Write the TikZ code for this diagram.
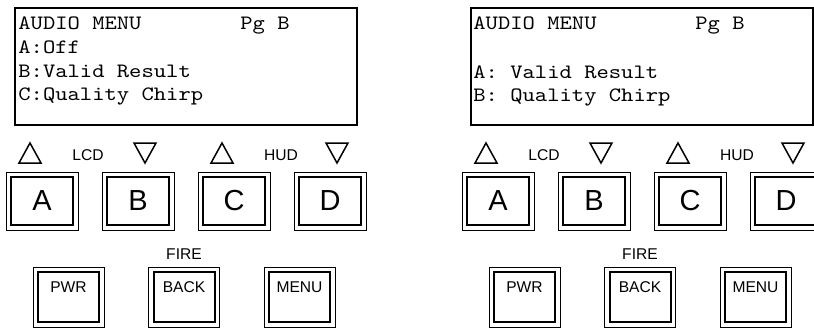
\documentclass[tikz,border=0pt]{standalone}
\usepackage{fontspec}
\setmainfont{Liberation Sans}
\newfontfamily\lcdfont[FakeStretch=1.15]{Latin Modern Mono}
\begin{document}
\begin{tikzpicture}[x=0.5pt,y=-0.5pt,
	lcdtext/.style={anchor=base west,inner sep=0pt,font=\lcdfont\fontsize{10.2}{12}\selectfont},
	small/.style={anchor=base,inner sep=0pt,font=\fontsize{7.8}{9}\selectfont},
	keyout/.style={draw,line width=0.5pt,minimum width=36pt,minimum height=29pt,inner sep=0pt},
	keyin/.style={draw,line width=1pt,minimum width=31pt,minimum height=24pt,inner sep=0pt,font=\fontsize{14.5}{16}\selectfont},
	padout/.style={draw,line width=0.5pt,minimum width=35.5pt,minimum height=30pt,inner sep=0pt},
	padin/.style={draw,line width=1pt,minimum width=30.5pt,minimum height=25pt,inner sep=0pt},
	tri/.style={line width=0.75pt}]
	\clip (0,0) rectangle (814,328);
	\fill[white] (0,0) rectangle (814,328);
	% two panels side by side
	\foreach \p/\s in {L/0pt,R/228pt}{
		\begin{scope}[xshift=\s]
			\draw[line width=0.8pt] (15,8) rectangle (357,125);
			\foreach \k/\x in {A/42,B/138,C/234,D/330}{
				\node[keyout] (\k\p o) at (\x,201) {};
				\node[keyin] (\k\p) at (\x,201) {\k};
			}
			\foreach \x in {30,222} \draw[tri] (\x-11,163)--(\x+11,163)--(\x,143)--cycle;
			\foreach \x in {145,337} \draw[tri] (\x-11,143)--(\x+11,143)--(\x,163)--cycle;
			\node[small] (lcd\p) at (88,160) {LCD};
			\node[small] (hud\p) at (281,160) {HUD};
			\node[small] (fire\p) at (184,259) {FIRE};
			\foreach \k/\x in {PWR/68.5,BACK/184,MENU/299.5}{
				\node[padout] (\k\p o) at (\x,297) {};
				\node[padin] (\k\p) at (\x,297) {};
				\node[small] at (\x,292) {\k};
			}
		\end{scope}
	}
	% left screen
	\node[lcdtext] (ttlL) at (18,29) {AUDIO MENU};
	\node[lcdtext] (pgL) at (240,29) {Pg B};
	\node[lcdtext] (lnaL) at (18,53) {A:Off};
	\node[lcdtext] (lnbL) at (18,77) {B:Valid Result};
	\node[lcdtext] (lncL) at (18,100) {C:Quality Chirp};
	% right screen
	\node[lcdtext] (ttlR) at (473,29) {AUDIO MENU};
	\node[lcdtext] (pgR) at (695,29) {Pg B};
	\node[lcdtext] (lnaR) at (473,78) {A: Valid Result};
	\node[lcdtext] (lnbR) at (473,101) {B: Quality Chirp};
\end{tikzpicture}
\end{document}
